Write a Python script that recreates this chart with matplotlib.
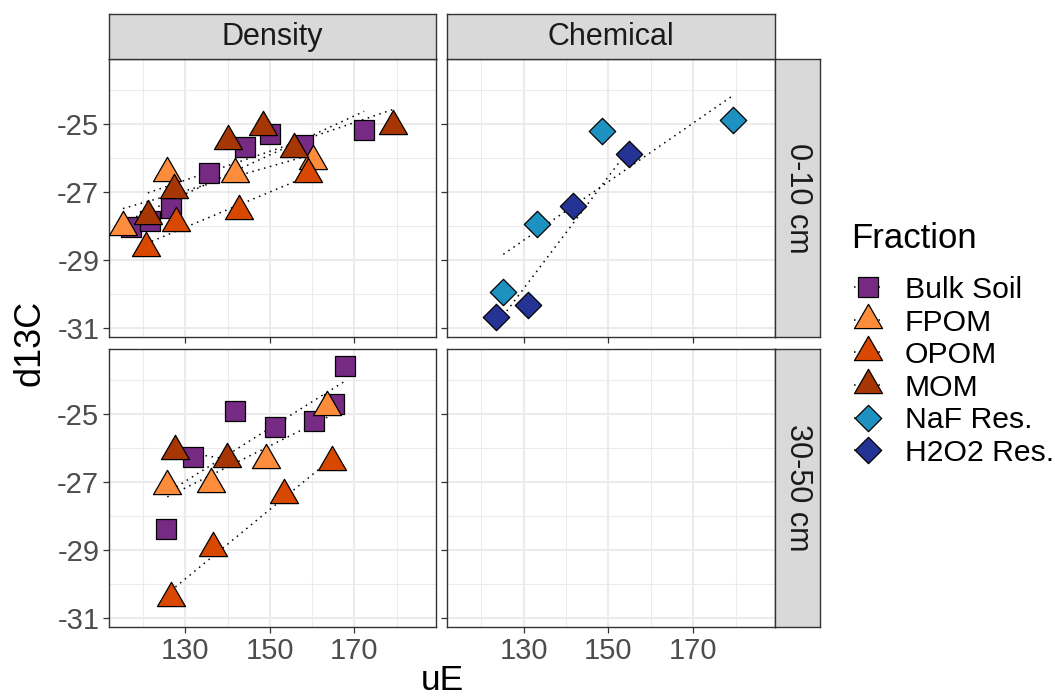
import matplotlib
matplotlib.use('Agg')
import matplotlib.pyplot as plt
from matplotlib.path import Path
from matplotlib.lines import Line2D
import numpy as np

plt.rcParams['font.family'] = ['Liberation Sans', 'DejaVu Sans']
plt.rcParams['axes.unicode_minus'] = False

# fractions, colours and the panels
fractions = ["Bulk Soil", "FPOM", "OPOM", "MOM", "NaF Res.", "H2O2 Res."]
colors = ["#762A83", "#FD8D3C", "#D94801", "#A63603", "#1D91C0", "#253494"]
methods = ["Density", "Chemical"]
depths = ["0-10 cm", "30-50 cm"]

# Density, 0-10 cm
bulk_top_ue = [117.0, 121.7, 126.6, 135.5, 144.1, 150.1, 157.9, 172.3]
bulk_top_d13c = [-28.03, -27.86, -27.48, -26.43, -25.67, -25.30, -25.62, -25.18]
fpom_top_ue = [115.2, 125.7, 141.7, 160.1]
fpom_top_d13c = [-28.03, -26.45, -26.48, -26.09]
opom_top_ue = [120.7, 127.8, 142.6, 158.9]
opom_top_d13c = [-28.65, -27.91, -27.57, -26.48]
mom_top_ue = [121.1, 127.2, 140.0, 148.3, 155.8, 179.2]
mom_top_d13c = [-27.71, -26.95, -25.49, -25.10, -25.72, -25.05]

# Chemical, 0-10 cm
naf_top_ue = [125.2, 133.1, 148.4, 179.4]
naf_top_d13c = [-29.94, -27.96, -25.21, -24.88]
h2o2_top_ue = [123.4, 130.9, 141.6, 154.9]
h2o2_top_d13c = [-30.68, -30.33, -27.43, -25.88]

# Density, 30-50 cm
bulk_bot_ue = [125.4, 131.7, 141.7, 151.2, 160.5, 165.2, 167.8]
bulk_bot_d13c = [-28.38, -26.28, -24.90, -25.39, -25.20, -24.69, -23.58]
fpom_bot_ue = [125.7, 136.1, 149.1, 163.6]
fpom_bot_d13c = [-27.11, -27.06, -26.36, -24.79]
opom_bot_ue = [126.5, 136.5, 153.4, 164.7]
opom_bot_d13c = [-30.42, -28.94, -27.40, -26.42]
mom_bot_ue = [127.6, 139.9]
mom_bot_d13c = [-26.08, -26.33]

xticks = [130, 150, 170]
yticks = [-25, -27, -29, -31]

# marker shapes (ggplot pch 22 / 24 / 23)
sq = 's'
tri = Path([(0, 1), (0.866, -0.5), (-0.866, -0.5), (0, 1)],
           [Path.MOVETO, Path.LINETO, Path.LINETO, Path.CLOSEPOLY])
dia = Path([(0, 1), (1, 0), (0, -1), (-1, 0), (0, 1)],
           [Path.MOVETO, Path.LINETO, Path.LINETO, Path.LINETO, Path.CLOSEPOLY])
shapes = [sq, tri, tri, tri, dia, dia]
msizes = [14.4, 23.3, 23.3, 23.3, 19.0, 19.0]

panel_data = {
    (0, 0): [(0, bulk_top_ue, bulk_top_d13c), (1, fpom_top_ue, fpom_top_d13c),
             (2, opom_top_ue, opom_top_d13c), (3, mom_top_ue, mom_top_d13c)],
    (0, 1): [(4, naf_top_ue, naf_top_d13c), (5, h2o2_top_ue, h2o2_top_d13c)],
    (1, 0): [(0, bulk_bot_ue, bulk_bot_d13c), (1, fpom_bot_ue, fpom_bot_d13c),
             (2, opom_bot_ue, opom_bot_d13c), (3, mom_bot_ue, mom_bot_d13c)],
    (1, 1): [],
}

W, H = 1055, 698
fig = plt.figure(figsize=(W / 100, H / 100), dpi=100)


def box(x0, y0, x1, y1):
    return [x0 / W, 1 - y1 / H, (x1 - x0) / W, (y1 - y0) / H]


col_x = [(109, 436), (447, 775)]
row_y = [(59, 337), (349, 627)]
edge = '#333333'
dots = (0, (1, 3))

for r in range(2):
    for c in range(2):
        ax = fig.add_axes(box(col_x[c][0], row_y[r][0], col_x[c][1], row_y[r][1]))
        ax.set_xlim(111.9, 189.3)
        ax.set_ylim(-31.28, -23.08)
        ax.set_xticks(xticks)
        ax.set_yticks(yticks)
        ax.set_xticks([120, 140, 160, 180], minor=True)
        ax.set_yticks([-24, -26, -28, -30], minor=True)
        ax.grid(which='major', color='#EBEBEB', lw=1.5)
        ax.grid(which='minor', color='#EBEBEB', lw=0.75)
        ax.set_axisbelow(True)
        for s in ax.spines.values():
            s.set_color(edge)
            s.set_linewidth(1.0)
        ax.tick_params(which='major', length=4, width=0.9, color=edge,
                       labelsize=21, labelcolor='#4D4D4D', pad=3)
        ax.tick_params(which='minor', length=0)
        if c == 1:
            ax.tick_params(labelleft=False)
        if r == 0:
            ax.tick_params(labelbottom=False)

        # dotted linear fits, one per fraction
        for i, xs, ys in panel_data[(r, c)]:
            xs = np.array(xs)
            ys = np.array(ys)
            b, a = np.polyfit(xs, ys, 1)
            xl = np.array([xs.min(), xs.max()])
            ax.plot(xl, a + b * xl, color='black', lw=1.1, linestyle=dots, zorder=2)
        for k, (i, xs, ys) in enumerate(panel_data[(r, c)]):
            ax.scatter(xs, ys, marker=shapes[i], s=msizes[i] ** 2, c=colors[i],
                       edgecolors='black', linewidths=0.9, zorder=3 + k)

# strips
for c in range(2):
    sa = fig.add_axes(box(col_x[c][0], 14, col_x[c][1], 59))
    sa.set_facecolor('#D9D9D9')
    sa.set_xticks([])
    sa.set_yticks([])
    for s in sa.spines.values():
        s.set_color(edge)
        s.set_linewidth(1.0)
    sa.text(0.5, 0.48, methods[c], ha='center', va='center', fontsize=22,
            color='#1A1A1A', transform=sa.transAxes)
for r in range(2):
    sa = fig.add_axes(box(775, row_y[r][0], 820, row_y[r][1]))
    sa.set_facecolor('#D9D9D9')
    sa.set_xticks([])
    sa.set_yticks([])
    for s in sa.spines.values():
        s.set_color(edge)
        s.set_linewidth(1.0)
    sa.text(0.52, 0.5, depths[r], ha='center', va='center', fontsize=22,
            rotation=-90, color='#1A1A1A', transform=sa.transAxes)

# axis titles
fig.text(442 / W, 1 - 697 / H, "uE", ha='center', va='bottom', fontsize=25.5)
fig.text(30 / W, 1 - 343 / H, "d13C", ha='center', va='center', fontsize=26,
         rotation=90)

# legend
fig.text(851 / W, 1 - 238 / H, "Fraction", ha='left', va='center', fontsize=25)
handles = [Line2D([], [], color='black', lw=1.1, linestyle=dots, marker=shapes[i],
                  markersize=msizes[i], markerfacecolor=colors[i],
                  markeredgecolor='black', markeredgewidth=0.9)
           for i in range(len(fractions))]
leg = fig.legend(handles, fractions, loc='upper left',
                 bbox_to_anchor=(854 / W, 1 - 276 / H), frameon=False,
                 fontsize=21.7, handlelength=0.9, handletextpad=0.78,
                 labelspacing=0.15, borderpad=0, borderaxespad=0)

fig.savefig('out.png', dpi=100)
